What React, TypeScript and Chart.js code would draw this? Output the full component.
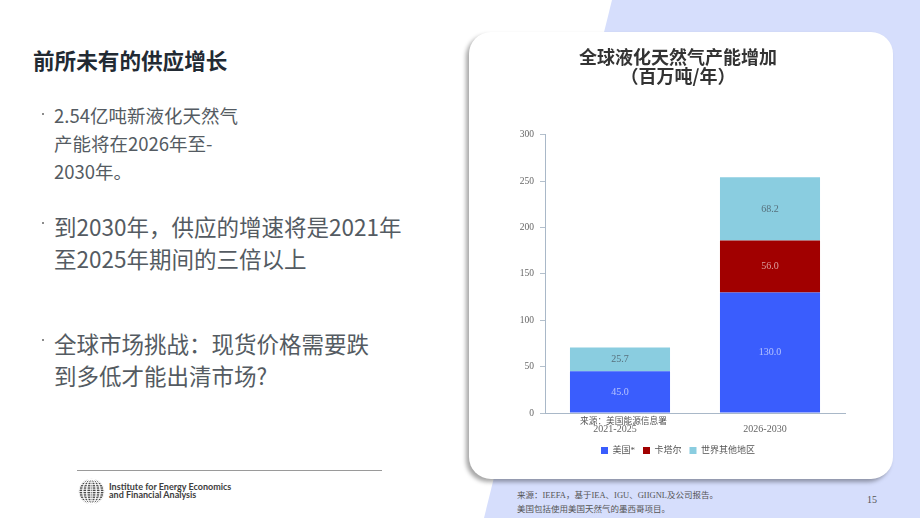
import React, { useEffect, useRef } from 'react';
import { Chart, registerables } from 'chart.js';

Chart.register(...registerables);

const categories = ['2021-2025', '2026-2030'];
const seriesNames = ['美国*', '卡塔尔', '世界其他地区'];
const usValues = [45.0, 130.0];
const qatarValues = [null, 56.0];
const restOfWorldValues = [25.7, 68.2];
const yTickValues = [0, 50, 100, 150, 200, 250, 300];
const chartTitle = ['全球液化天然气产能增加', '（百万吨/年）'];

const seriesColors = ['#3a5dfd', '#a10000', '#8acde0'];
const labelColors = ['rgba(255,255,255,0.62)', 'rgba(255,255,255,0.6)', 'rgba(70,80,90,0.75)'];

const SANS = '"Noto Sans CJK SC", "Noto Sans", sans-serif';
const SERIF = '"Liberation Serif", "Noto Sans CJK SC", serif';

const valueLabels = {
  id: 'valueLabels',
  afterDatasetsDraw(chart: any) {
    const ctx = chart.ctx;
    chart.data.datasets.forEach((ds: any, i: number) => {
      const meta = chart.getDatasetMeta(i);
      meta.data.forEach((bar: any, j: number) => {
        const v = ds.data[j];
        if (v == null) return;
        const { x, y, base } = bar.getProps(['x', 'y', 'base'], true);
        ctx.save();
        ctx.fillStyle = labelColors[i];
        ctx.font = '10px ' + SERIF;
        ctx.textAlign = 'center';
        ctx.textBaseline = 'middle';
        ctx.fillText(Number(v).toFixed(1), x, (y + base) / 2);
        ctx.restore();
      });
    });
  },
};

function Globe() {
  const lines = [];
  for (let i = -3; i <= 3; i++) {
    lines.push(<ellipse key={'m' + i} cx={13.5} cy={13.5} rx={Math.abs(i) * 4 + 0.8} ry={12.5} fill="none" stroke="#fff" strokeWidth={0.9} />);
  }
  for (let i = -5; i <= 5; i++) {
    const y = 13.5 + i * 2.3;
    lines.push(<line key={'p' + i} x1={0} y1={y} x2={27} y2={y} stroke="#fff" strokeWidth={0.9} />);
  }
  return (
    <svg width={27} height={27} style={{ position: 'absolute', left: 78, top: 478 }}>
      <defs>
        <clipPath id="gclip"><circle cx={13.5} cy={13.5} r={12.8} /></clipPath>
      </defs>
      <g clipPath="url(#gclip)">
        <circle cx={13.5} cy={13.5} r={12.8} fill="#4a4a4a" />
        {lines}
      </g>
    </svg>
  );
}

export default function App() {
  const ref = useRef<HTMLCanvasElement>(null);

  useEffect(() => {
    const chart = new Chart(ref.current as HTMLCanvasElement, {
      type: 'bar',
      data: {
        labels: categories,
        datasets: [
          { label: seriesNames[0], data: usValues, backgroundColor: seriesColors[0] },
          { label: seriesNames[1], data: qatarValues as any, backgroundColor: seriesColors[1] },
          { label: seriesNames[2], data: restOfWorldValues, backgroundColor: seriesColors[2] },
        ],
      },
      options: {
        animation: false,
        responsive: true,
        maintainAspectRatio: false,
        datasets: { bar: { categoryPercentage: 1, barPercentage: 0.667 } },
        layout: { padding: { left: 41, right: 48, top: 0, bottom: 13 } },
        plugins: {
          title: {
            display: true,
            text: chartTitle,
            color: '#333',
            font: { family: SANS, size: 18, weight: 'bold', lineHeight: 1.08 },
            padding: { top: 14, bottom: 49 },
          },
          legend: {
            position: 'bottom',
            labels: { boxWidth: 7, boxHeight: 7, padding: 8, color: '#555', font: { family: SERIF, size: 9 } },
          },
          tooltip: { enabled: false },
        },
        scales: {
          x: {
            stacked: true,
            grid: { display: false, drawTicks: false, tickLength: 0 },
            border: { display: true, color: '#a9b8c8' },
            ticks: { color: '#666', padding: 10, labelOffset: -5, font: { family: SERIF, size: 10 } },
            afterFit: (s: any) => {
              s.height = s.height - 7;
            },
          },
          y: {
            stacked: true,
            min: 0,
            max: 300,
            afterBuildTicks: (s: any) => {
              s.ticks = yTickValues.map((v) => ({ value: v }));
            },
            afterFit: (s: any) => {
              s.width = 34;
            },
            ticks: { color: '#666', padding: 6, font: { family: SERIF, size: 9.5 } },
            grid: { drawOnChartArea: false, drawTicks: true, tickLength: 5, color: '#b4c0cc' },
            border: { display: true, color: '#a9b8c8' },
          },
        },
      } as any,
      plugins: [valueLabels],
    });
    return () => chart.destroy();
  }, []);

  const bulletText = { position: 'absolute' as const, left: 54, color: '#545b62', fontFamily: SANS, whiteSpace: 'nowrap' as const };
  const dot = (x: number, y: number) => (
    <div style={{ position: 'absolute', left: x - 1.3, top: y - 1.3, width: 2.6, height: 2.6, borderRadius: '50%', background: '#666' }} />
  );

  return (
    <div style={{ position: 'absolute', left: 0, top: 0, width: 920, height: 518, overflow: 'hidden', background: '#fff', fontFamily: SANS }}>
      <div style={{ position: 'absolute', left: 0, top: 0, width: 920, height: 518, background: '#d6defc', clipPath: 'polygon(612px 0, 920px 0, 920px 518px, 484px 518px)' }} />
      <div style={{ position: 'absolute', left: 469, top: 32, width: 424, height: 447, background: '#fff', borderRadius: 22, boxShadow: '-3px 3px 4px rgba(0,0,0,0.35)' }} />
      <div style={{ position: 'absolute', left: 470, top: 33, width: 423, height: 445 }}>
        <canvas ref={ref} />
      </div>
      <div style={{ position: 'absolute', left: 580, top: 415, fontSize: 8.7, lineHeight: '12px', color: '#555', fontFamily: SANS, whiteSpace: 'nowrap' }}>来源：美国能源信息署</div>

      <div style={{ position: 'absolute', left: 33, top: 48, fontSize: 21.6, lineHeight: '24px', fontWeight: 'bold', color: '#222a33', whiteSpace: 'nowrap' }}>前所未有的供应增长</div>

      {dot(43, 114)}
      <div style={{ ...bulletText, top: 100.5, fontSize: 18.5, lineHeight: '28px' }}>
        2.54亿吨新液化天然气<br />产能将在2026年至-<br />2030年。
      </div>
      {dot(43, 223)}
      <div style={{ ...bulletText, top: 210, fontSize: 22.5, lineHeight: '32px' }}>
        到2030年，供应的增速将是2021年<br />至2025年期间的三倍以上
      </div>
      {dot(43, 340)}
      <div style={{ ...bulletText, top: 327, fontSize: 22.5, lineHeight: '32px' }}>
        全球市场挑战：现货价格需要跌<br />到多低才能出清市场?
      </div>

      <div style={{ position: 'absolute', left: 77, top: 470, width: 305, height: 1, background: '#9a9a9a' }} />
      <Globe />
      <div style={{ position: 'absolute', left: 109, top: 482.5, fontSize: 9, lineHeight: '8px', fontWeight: 'bold', fontFamily: 'Lato, "Open Sans", sans-serif', color: '#3d3d3d', whiteSpace: 'nowrap' }}>
        Institute for Energy Economics<br />and Financial Analysis
      </div>

      <div style={{ position: 'absolute', left: 517, top: 489, fontSize: 8.5, lineHeight: '13.5px', color: '#555', fontFamily: SERIF, whiteSpace: 'nowrap' }}>
        来源：IEEFA，基于IEA、IGU、GIIGNL及公司报告。<br />美国包括使用美国天然气的墨西哥项目。
      </div>
      <div style={{ position: 'absolute', left: 867, top: 494, fontSize: 10, lineHeight: '12px', color: '#555', fontFamily: SERIF }}>15</div>
    </div>
  );
}
